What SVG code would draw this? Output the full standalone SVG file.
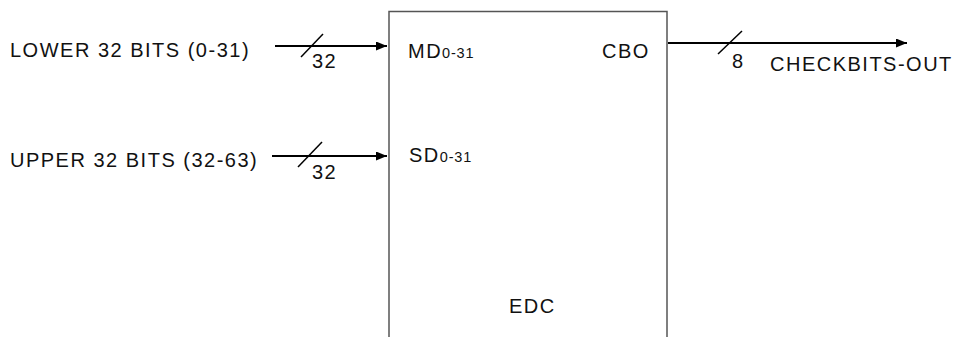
<svg xmlns="http://www.w3.org/2000/svg" width="956" height="337" viewBox="0 0 956 337">
<defs>
<marker id="ah" markerWidth="11" markerHeight="9" refX="11" refY="4.5" orient="auto" markerUnits="userSpaceOnUse"><path d="M0,0 L11,4.5 L0,9 Z" fill="#000"/></marker>
<style>
text{font-family:"Liberation Sans",Arial,sans-serif;fill:#111;}
.lbl{font-size:20px;letter-spacing:1.5px;}
.sub{font-size:14.5px;letter-spacing:0.8px;}
.wire{stroke:#000;stroke-width:2;fill:none;}
.slash{stroke:#000;stroke-width:1.5;}
</style>
</defs>
<rect width="956" height="337" fill="#fff"/>
<g id="edc">
<path d="M389,337 L389,11.5 L667,11.5 L667,337" fill="none" stroke="#555" stroke-width="1.5"/>
<text class="lbl" x="408" y="58">MD<tspan class="sub">0-31</tspan></text>
<text class="lbl" x="409" y="162">SD<tspan class="sub">0-31</tspan></text>
<text class="lbl" x="602" y="58">CBO</text>
<text class="lbl" x="509" y="313">EDC</text>
</g>
<g id="in-lower">
<text class="lbl" x="10" y="57">LOWER 32 BITS (0-31)</text>
</g>
<g id="in-upper">
<text class="lbl" x="10" y="167">UPPER 32 BITS (32-63)</text>
</g>
<g id="out-checkbits">
<text class="lbl" x="770" y="71">CHECKBITS-OUT</text>
</g>
<g id="connectors">
<line class="wire" x1="275" y1="46" x2="387" y2="46" marker-end="url(#ah)"/>
<line class="slash" x1="301" y1="57" x2="323" y2="34"/>
<text class="lbl" x="312" y="68">32</text>
<line class="wire" x1="272" y1="156" x2="387" y2="156" marker-end="url(#ah)"/>
<line class="slash" x1="298" y1="167" x2="322" y2="142"/>
<text class="lbl" x="312" y="179">32</text>
<line class="wire" x1="668" y1="43" x2="907" y2="43" marker-end="url(#ah)"/>
<line class="slash" x1="718" y1="54" x2="742" y2="31"/>
<text class="lbl" x="732" y="68">8</text>
</g>
</svg>
